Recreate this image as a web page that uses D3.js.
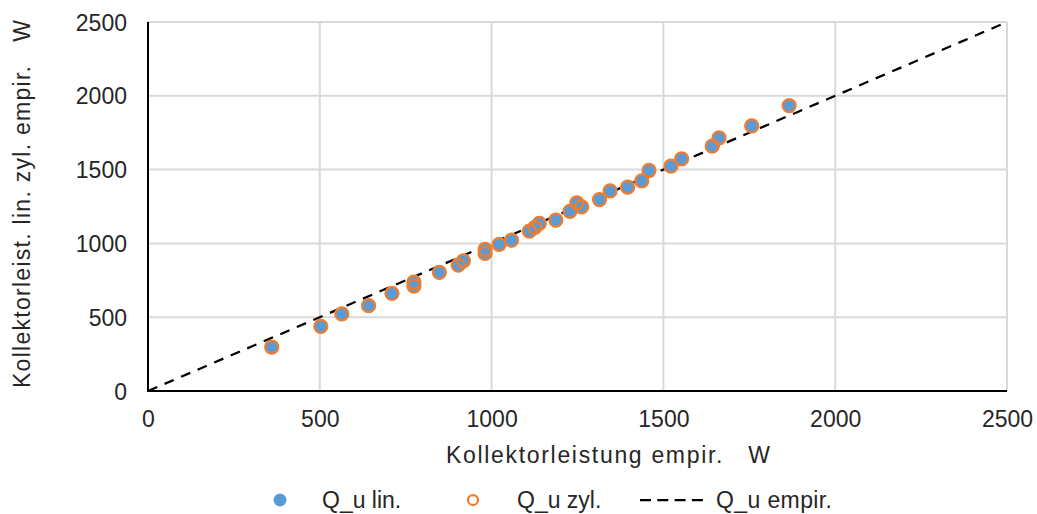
<!DOCTYPE html>
<html>
<head>
<meta charset="utf-8">
<script src="https://cdn.jsdelivr.net/npm/d3@7"></script>
<style>
  html, body { margin: 0; padding: 0; background: #fff; }
  svg { display: block; }
  text { font-family: "Liberation Sans", Arial, sans-serif; fill: #262626; }
</style>
</head>
<body>
<svg id="chart" width="1037" height="514"></svg>
<script>
// ---- data ----
const xEmpir = [360, 503, 564, 642, 710, 774, 774, 848, 903, 918, 981, 981, 1022, 1058, 1110, 1126, 1139, 1187, 1228, 1248, 1262, 1314, 1345, 1396, 1437, 1458, 1522, 1553, 1642, 1662, 1757, 1866];
const yLin   = [298, 438, 523, 578, 661, 738, 711, 804, 853, 882, 959, 932, 994, 1022, 1083, 1108, 1135, 1158, 1217, 1275, 1248, 1297, 1356, 1381, 1424, 1494, 1523, 1573, 1659, 1715, 1796, 1934];
const yZyl   = [298, 438, 523, 578, 661, 738, 711, 804, 853, 882, 959, 932, 994, 1022, 1083, 1108, 1135, 1158, 1217, 1275, 1248, 1297, 1356, 1381, 1424, 1494, 1523, 1573, 1659, 1715, 1796, 1934];
const empirLine = [0, 2500];
const xTicks = [0, 500, 1000, 1500, 2000, 2500];
const yTicks = [0, 500, 1000, 1500, 2000, 2500];
const seriesNames = ["Q_u lin.", "Q_u zyl.", "Q_u empir."];
const xTitle = "Kollektorleistung empir.   W";
const yTitle = "Kollektorleist. lin. zyl. empir.   W";

// ---- layout ----
const svg = d3.select("#chart");
const pL = 148, pR = 1007, pT = 22, pB = 391;
const x = d3.scaleLinear().domain([0, 2500]).range([pL, pR]);
const y = d3.scaleLinear().domain([0, 2500]).range([pB, pT]);
const blue = "#5B9BD5", orange = "#ED7D31";
const fs = 23;

// gridlines
const grid = svg.append("g");
grid.selectAll("line.v").data(xTicks.slice(1)).enter().append("line")
  .attr("x1", d => x(d)).attr("x2", d => x(d))
  .attr("y1", y(0)).attr("y2", y(2500))
  .attr("stroke", "#d9d9d9").attr("stroke-width", 2);
grid.selectAll("line.h").data(yTicks.slice(1)).enter().append("line")
  .attr("x1", x(0)).attr("x2", x(2500))
  .attr("y1", d => y(d)).attr("y2", d => y(d))
  .attr("stroke", "#d9d9d9").attr("stroke-width", 2);

// axes
const xAxis = d3.axisBottom(x).tickValues(xTicks).tickSize(0).tickPadding(0).tickFormat(d3.format("d"));
const yAxis = d3.axisLeft(y).tickValues(yTicks).tickSize(0).tickPadding(0).tickFormat(d3.format("d"));
const gx = svg.append("g").attr("transform", `translate(0,${pB})`).call(xAxis);
gx.select(".domain").remove();
gx.selectAll("text").attr("y", 29).attr("dy", "0.32em")
  .style("font-size", fs + "px").style("font-family", "Liberation Sans, Arial, sans-serif").attr("fill", "#262626");
const gy = svg.append("g").attr("transform", `translate(${pL},0)`).call(yAxis);
gy.select(".domain").remove();
gy.selectAll("text").attr("x", -21).attr("dy", "0.35em")
  .style("font-size", fs + "px").style("font-family", "Liberation Sans, Arial, sans-serif").attr("fill", "#262626");

// axis lines
svg.append("line").attr("x1", x(0)).attr("x2", x(2500)).attr("y1", y(0)).attr("y2", y(0))
  .attr("stroke", "#000").attr("stroke-width", 2);
svg.append("line").attr("x1", x(0)).attr("x2", x(0)).attr("y1", y(0) + 1).attr("y2", y(2500))
  .attr("stroke", "#000").attr("stroke-width", 2);

// empirical line
svg.append("path").datum(empirLine)
  .attr("d", d3.line().x(d => x(d)).y(d => y(d)))
  .attr("fill", "none").attr("stroke", "#000").attr("stroke-width", 2.25)
  .attr("stroke-dasharray", "10,8");

// series
const ptsLin = xEmpir.map((v, i) => [v, yLin[i]]);
const ptsZyl = xEmpir.map((v, i) => [v, yZyl[i]]);
svg.append("g").selectAll("circle").data(ptsLin).enter().append("circle")
  .attr("cx", d => x(d[0])).attr("cy", d => y(d[1])).attr("r", 6.5)
  .attr("fill", blue);
svg.append("g").selectAll("circle").data(ptsZyl).enter().append("circle")
  .attr("cx", d => x(d[0])).attr("cy", d => y(d[1])).attr("r", 6.5)
  .attr("fill", "none").attr("stroke", orange).attr("stroke-width", 2.25);

// titles
svg.append("text").attr("x", 446).attr("y", 463)
  .attr("textLength", 324).attr("lengthAdjust", "spacing")
  .style("font-size", fs + "px").style("white-space", "pre").text(xTitle);
svg.append("text").attr("transform", "translate(30,388) rotate(-90)")
  .attr("textLength", 368).attr("lengthAdjust", "spacing")
  .style("font-size", fs + "px").style("white-space", "pre").text(yTitle);

// legend
const lg = svg.append("g");
const ly = 500;
lg.append("circle").attr("cx", 280).attr("cy", ly).attr("r", 6.5).attr("fill", blue);
lg.append("text").attr("x", 322).attr("y", 508).style("font-size", fs + "px").text(seriesNames[0]);
lg.append("circle").attr("cx", 473).attr("cy", ly).attr("r", 5).attr("fill", "none")
  .attr("stroke", orange).attr("stroke-width", 2.25);
lg.append("text").attr("x", 517).attr("y", 508).style("font-size", fs + "px").text(seriesNames[1]);
lg.append("line").attr("x1", 640).attr("x2", 703).attr("y1", ly).attr("y2", ly)
  .attr("stroke", "#000").attr("stroke-width", 2.25).attr("stroke-dasharray", "11,6.3");
lg.append("text").attr("x", 716).attr("y", 508).attr("textLength", 116).attr("lengthAdjust", "spacing")
  .style("font-size", fs + "px").text(seriesNames[2]);
</script>
</body>
</html>
